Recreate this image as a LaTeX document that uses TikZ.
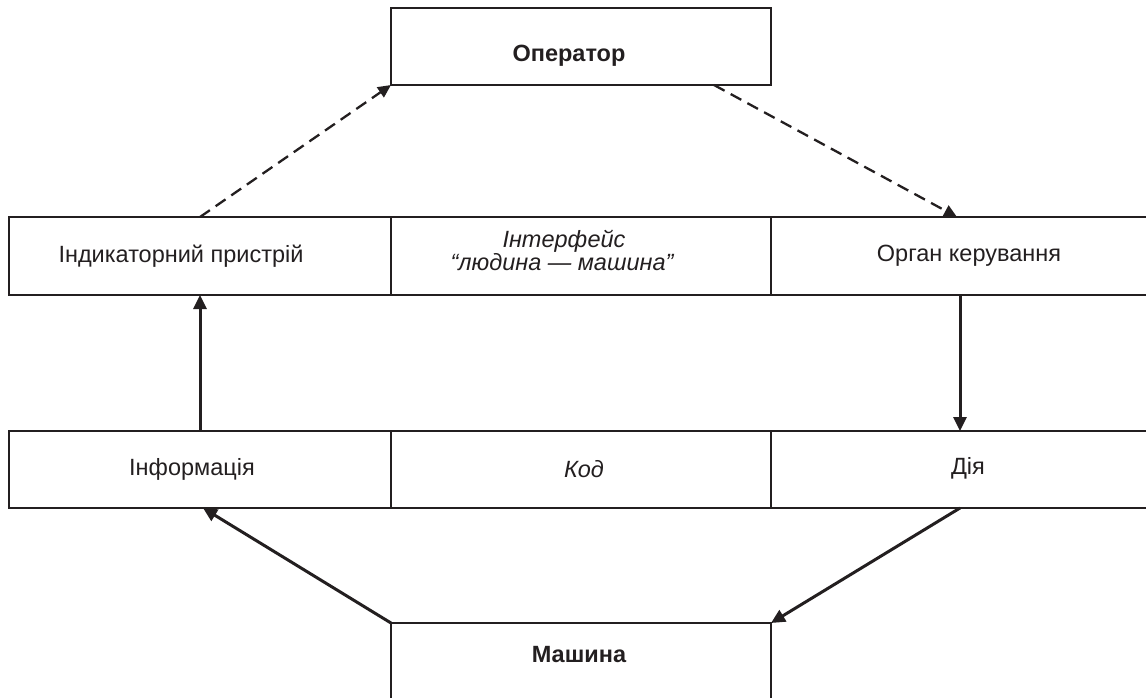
\documentclass[tikz,border=0pt]{standalone}
\usepackage{fontspec}
\setmainfont{Liberation Sans}
\usetikzlibrary{arrows.meta,calc}
\definecolor{ink}{HTML}{231F20}
\begin{document}
\begin{tikzpicture}[x=1pt,y=-1pt,
  box/.style={draw=ink, line width=2pt, rectangle, inner sep=0pt, outer sep=0pt},
  lbl/.style={text=ink, font=\fontsize{23.5}{27}\selectfont, inner sep=0pt, anchor=base},
  blbl/.style={lbl, font=\fontsize{23.5}{27}\selectfont\bfseries},
  ilbl/.style={lbl, font=\fontsize{23.5}{27}\selectfont\itshape},
  dasharrow/.style={draw=ink, line width=2.3pt, dash pattern=on 12pt off 7pt, -{Triangle[length=13pt,width=12pt]}},
  solidarrow/.style={draw=ink, line width=3pt, -{Triangle[length=14pt,width=13pt]}}]
\useasboundingbox (0,0) rectangle (1146,697);
\begin{scope}
\clip (0,0) rectangle (1146,697);
% boxes
\node[box, minimum width=380pt, minimum height=77pt] (op)   at (581,46.5) {};
\node[box, minimum width=382pt, minimum height=78pt] (ind)  at (200,256) {};
\node[box, minimum width=380pt, minimum height=78pt] (intf) at (581,256) {};
\node[box, minimum width=396pt, minimum height=78pt] (org)  at (969,256) {};
\node[box, minimum width=382pt, minimum height=77pt] (inf)  at (200,469.5) {};
\node[box, minimum width=380pt, minimum height=77pt] (kod)  at (581,469.5) {};
\node[box, minimum width=396pt, minimum height=77pt] (dia)  at (969,469.5) {};
\node[box, minimum width=380pt, minimum height=97pt] (mash) at (581,671.5) {};
% labels
\node[blbl] (topl)  at (569,61)  {Оператор};
\node[lbl]  (indl)  at (181,262) {Індикаторний пристрій};
\node[ilbl] (intf1) at (564,247) {Інтерфейс};
\node[ilbl] (intf2) at (562,270) {“людина — машина”};
\node[lbl]  (orgl)  at (969,261) {Орган керування};
\node[lbl]  (infl)  at (192,475) {Інформація};
\node[ilbl] (kodl)  at (584,477) {Код};
\node[lbl]  (dial)  at (968,474) {Дія};
\node[blbl] (mashl) at (579,662) {Машина};
% connector end points
\coordinate (opout) at ($(op.south west)!0.85!(op.south east)$);
\coordinate (orgin) at (957,217);
\coordinate (orgout) at (960,295);
\coordinate (diain) at (960,431);
\coordinate (diaout) at (960,508);
\coordinate (infin) at (203,508);
% connectors
\draw[dasharrow] (ind.north) -- (op.south west);
\draw[dasharrow] (opout) -- (orgin);
\draw[solidarrow] (inf.north) -- (ind.south);
\draw[solidarrow] (orgout) -- (diain);
\draw[solidarrow] (diaout) -- (mash.north east);
\draw[solidarrow] (mash.north west) -- (infin);
\end{scope}
\end{tikzpicture}
\end{document}
